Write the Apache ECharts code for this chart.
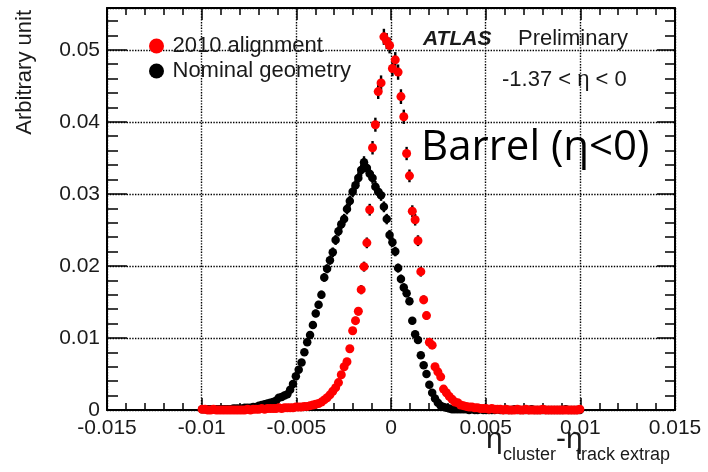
<!DOCTYPE html>
<html>
<head>
<meta charset="utf-8">
<script src="https://cdn.jsdelivr.net/npm/echarts@6/dist/echarts.min.js"></script>
<style>
  html, body { margin: 0; padding: 0; background: #fff; }
  #chart { width: 708px; height: 472px; }
</style>
</head>
<body>
<div id="chart"></div>
<script>
// ------------------------------------------------------------------
// eta_cluster - eta_track extrap, barrel (eta < 0)
// histogram bins: bin k covers [k*w, (k+1)*w], k from firstBin upward
// ------------------------------------------------------------------
var binWidth = 0.00015;
var firstBin = -67;

// 2010 alignment (red)
var alignment2010 = [
    0.0001, 0.0001, 0, 0, 0.0001, 0, 0, 0, 0, 0,
    0, 0, 0, 0, 0, 0, 0.0001, 0, 0.0001, 0.0001,
    0.0001, 0.0002, 0.0001, 0.0002, 0.0002, 0.0002, 0.0002, 0.0003, 0.0002, 0.0003,
    0.0003, 0.0003, 0.0003, 0.0004, 0.0004, 0.0004, 0.0005, 0.0005, 0.0006, 0.0007,
    0.0008, 0.0009, 0.0011, 0.0014, 0.0017, 0.0021, 0.0026, 0.0031, 0.0038, 0.0049,
    0.0060, 0.0067, 0.0085, 0.0110, 0.0124, 0.0137, 0.0167, 0.0199, 0.0232, 0.0278,
    0.0364, 0.0396, 0.0442, 0.0454, 0.0518, 0.0512, 0.0506, 0.0474, 0.0486, 0.0469,
    0.0435, 0.0407, 0.0356, 0.0325, 0.0276, 0.0264, 0.0235, 0.0192, 0.0153, 0.0131,
    0.0094, 0.0090, 0.0060, 0.0053, 0.0046, 0.0029, 0.0024, 0.0019, 0.0015, 0.0011,
    0.0010, 0.0007, 0.0006, 0.0005, 0.0004, 0.0004, 0.0003, 0.0003, 0.0002, 0.0002,
    0.0002, 0.0001, 0.0002, 0.0001, 0.0001, 0.0001, 0, 0.0001, 0, 0,
    0, 0.0001, 0, 0, 0.0001, 0, 0, 0, 0, 0,
    0.0001, 0, 0, 0, 0, 0, 0, 0, 0, 0,
    0, 0, 0, 0.0001
];

// Nominal geometry (black)
var nominalGeometry = [
    0.0001, 0.0001, 0.0001, 0.0001, 0.0001, 0.0001, 0.0001, 0.0001, 0.0001, 0.0001,
    0.0001, 0.0002, 0.0002, 0.0002, 0.0002, 0.0003, 0.0003, 0.0003, 0.0004, 0.0004,
    0.0006, 0.0007, 0.0008, 0.0009, 0.0010, 0.0011, 0.0013, 0.0017, 0.0018, 0.0020,
    0.0022, 0.0028, 0.0036, 0.0047, 0.0056, 0.0066, 0.0080, 0.0094, 0.0104, 0.0118,
    0.0134, 0.0146, 0.0160, 0.0184, 0.0196, 0.0208, 0.0219, 0.0236, 0.0248, 0.0258,
    0.0265, 0.0279, 0.0290, 0.0303, 0.0312, 0.0322, 0.0333, 0.0344, 0.0336, 0.0328,
    0.0322, 0.0310, 0.0303, 0.0298, 0.0282, 0.0265, 0.0243, 0.0233, 0.0220, 0.0197,
    0.0182, 0.0170, 0.0162, 0.0151, 0.0124, 0.0105, 0.0097, 0.0076, 0.0062, 0.0050,
    0.0035, 0.0024, 0.0016, 0.0010, 0.0006, 0.0004, 0.0003, 0.0002, 0.0001, 0.0001,
    0.0001, 0.0001, 0.0001, 0.0001, 0, 0.0001, 0, 0, 0.0001, 0,
    0, 0, 0, 0, 0.0001, 0, 0, 0, 0, 0,
    0.0001, 0, 0, 0, 0, 0, 0.0001, 0, 0, 0,
    0, 0, 0, 0, 0, 0, 0, 0, 0.0001, 0,
    0, 0, 0, 0
];

var xTicks = ['-0.015', '-0.01', '-0.005', '0', '0.005', '0.01', '0.015'];
var yTicks = ['0', '0.01', '0.02', '0.03', '0.04', '0.05'];

// ------------------------------------------------------------------

var FONT = '"Liberation Sans", Arial, Helvetica, sans-serif';

// bin centre / value pairs
var toPoints = function (values) {
    return values.map(function (v, i) {
        return [(firstBin + i + 0.5) * binWidth, v];
    });
};

// statistical-looking error band (scales with sqrt of the content)
var toErrors = function (values, scale) {
    return values.map(function (v, i) {
        var e = Math.sqrt(v * scale);
        return [(firstBin + i + 0.5) * binWidth, v - e, v + e];
    });
};

var errorBars = function (name, data, color, z) {
    return {
        type: 'custom',
        name: name,
        z: z,
        silent: true,
        encode: { x: 0, y: [1, 2] },
        data: data,
        renderItem: function (params, api) {
            var lo = api.coord([api.value(0), api.value(1)]);
            var hi = api.coord([api.value(0), api.value(2)]);
            return {
                type: 'line',
                shape: { x1: lo[0], y1: lo[1], x2: hi[0], y2: hi[1] },
                style: { stroke: color, lineWidth: 2.4 }
            };
        }
    };
};

var chart = echarts.init(document.getElementById('chart'), null, { renderer: 'canvas' });

var gridLine = { show: true, lineStyle: { color: '#000', width: 1.4, type: 'dotted', opacity: 1 } };
var frame = { show: true, onZero: false, lineStyle: { color: '#000', width: 2 } };
var tickStyle = { color: '#000', width: 1.5 };

var option = {
    backgroundColor: '#fff',
    animation: false,
    textStyle: { fontFamily: FONT },
    grid: { left: 107, right: 33, top: 8, bottom: 62, containLabel: false },
    legend: {
        orient: 'vertical',
        left: 144,
        top: 30,
        itemWidth: 22,
        itemHeight: 15,
        itemGap: 3,
        icon: 'circle',
        data: ['2010 alignment', 'Nominal geometry'],
        textStyle: { fontFamily: FONT, fontSize: 22, color: '#1a1a1a' }
    },
    xAxis: [{
        type: 'value',
        min: -0.015,
        max: 0.015,
        interval: 0.005,
        axisLine: frame,
        axisTick: { show: true, inside: true, length: 12, lineStyle: tickStyle },
        minorTick: { show: true, splitNumber: 5, length: 7, lineStyle: tickStyle },
        splitLine: gridLine,
        axisLabel: {
            margin: 8,
            fontSize: 21,
            color: '#1a1a1a',
            fontFamily: FONT,
            formatter: function (v, i) { return xTicks[i] || ''; }
        }
    }, {
        type: 'value',
        position: 'top',
        min: -0.015,
        max: 0.015,
        interval: 0.005,
        axisLine: frame,
        axisTick: { show: true, inside: true, length: 12, lineStyle: tickStyle },
        minorTick: { show: true, splitNumber: 5, length: 7, lineStyle: tickStyle },
        splitLine: { show: false },
        axisLabel: { show: false }
    }],
    yAxis: [{
        type: 'value',
        min: 0,
        max: 0.0558,
        interval: 0.01,
        axisLine: frame,
        axisTick: { show: true, inside: true, length: 20, lineStyle: tickStyle },
        minorTick: { show: true, splitNumber: 5, length: 11, lineStyle: tickStyle },
        splitLine: gridLine,
        axisLabel: {
            margin: 7,
            fontSize: 21,
            color: '#1a1a1a',
            fontFamily: FONT,
            formatter: function (v, i) { return yTicks[i] || ''; }
        }
    }, {
        type: 'value',
        position: 'right',
        min: 0,
        max: 0.0558,
        interval: 0.01,
        axisLine: frame,
        axisTick: { show: true, inside: true, length: 18, lineStyle: tickStyle },
        minorTick: { show: true, splitNumber: 5, length: 10, lineStyle: tickStyle },
        splitLine: { show: false },
        axisLabel: { show: false }
    }],
    series: [
        errorBars('nominal-err', toErrors(nominalGeometry, 2.0e-5), '#000', 2),
        {
            name: 'Nominal geometry',
            type: 'scatter',
            z: 3,
            symbol: 'circle',
            symbolSize: 8.5,
            itemStyle: { color: '#000', opacity: 1 },
            data: toPoints(nominalGeometry)
        },
        errorBars('alignment-err', toErrors(alignment2010, 2.4e-5), '#000', 4),
        {
            name: '2010 alignment',
            type: 'scatter',
            z: 5,
            symbol: 'circle',
            symbolSize: 9,
            itemStyle: { color: '#ff0000', opacity: 1 },
            data: toPoints(alignment2010)
        }
    ],
    graphic: [
        {
            type: 'text', x: 25, y: 10, rotation: Math.PI / 2,
            style: { text: 'Arbitrary unit', font: '22px ' + FONT, fill: '#1a1a1a', align: 'right', verticalAlign: 'middle' }
        },
        {
            type: 'text', x: 423, y: 39,
            style: { text: 'ATLAS', font: 'italic bold 21px ' + FONT, fill: '#1a1a1a', verticalAlign: 'middle' }
        },
        {
            type: 'text', x: 518, y: 39,
            style: { text: 'Preliminary', font: '22px ' + FONT, fill: '#1a1a1a', verticalAlign: 'middle' }
        },
        {
            type: 'text', x: 502, y: 80,
            style: { text: '-1.37 < \u03b7 < 0', font: '22px ' + FONT, fill: '#1a1a1a', verticalAlign: 'middle' }
        },
        {
            type: 'text', x: 421, y: 148,
            style: { text: 'Barrel (\u03b7<0)', font: '42px "Open Sans", Lato, sans-serif', fill: '#000', verticalAlign: 'middle' }
        },
        // x axis title: eta_cluster - eta_track extrap
        {
            type: 'text', x: 486, y: 440,
            style: { text: '\u03b7', font: '30px ' + FONT, fill: '#1a1a1a', verticalAlign: 'middle' }
        },
        {
            type: 'text', x: 503, y: 455,
            style: { text: 'cluster', font: '18px ' + FONT, fill: '#1a1a1a', verticalAlign: 'middle' }
        },
        {
            type: 'text', x: 556, y: 440,
            style: { text: '-\u03b7', font: '30px ' + FONT, fill: '#1a1a1a', verticalAlign: 'middle' }
        },
        {
            type: 'text', x: 576, y: 455,
            style: { text: 'track extrap', font: '18px ' + FONT, fill: '#1a1a1a', verticalAlign: 'middle' }
        }
    ]
};

chart.setOption(option);

window.addEventListener('resize', function () {
    chart.resize();
});
</script>
</body>
</html>
